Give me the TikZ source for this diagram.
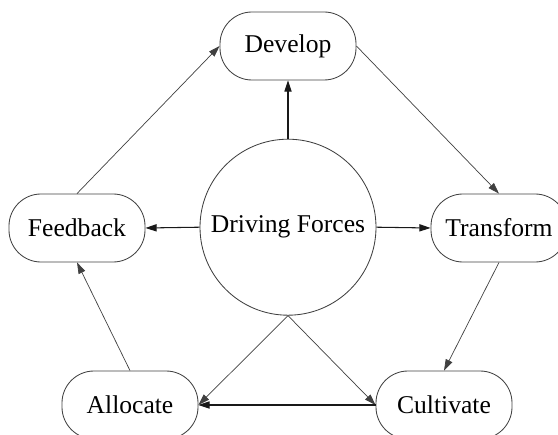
\documentclass[tikz,border=0pt]{standalone}
\usepackage{fontspec}
\setmainfont{Liberation Serif}
\usetikzlibrary{arrows.meta}

\begin{document}
\begin{tikzpicture}[
  box/.style={draw=black!75, line width=0.6pt, rounded corners=0.8cm,
    minimum width=3.4cm, minimum height=1.7cm, inner sep=0pt,
    font=\fontsize{18.2}{20}\selectfont},
  hub/.style={draw=black!75, line width=0.6pt, circle, minimum size=4.4cm,
    inner sep=0pt, font=\fontsize{18.2}{20}\selectfont},
  link/.style={draw=black!75, line width=0.5pt, -{Triangle[length=0.28cm,width=0.18cm]}},
  mainlink/.style={link, draw=black!90, line width=0.75pt}]
\clip (0,0) rectangle (13.95,10.85);

\node[hub] (forces) at (7.2,5.17) {Driving Forces};
\node[box] (develop) at (7.2,9.7) {Develop};
\node[box] (feedback) at (1.925,5.15) {Feedback};
\node[box] (transform) at (12.475,5.15) {Transform};
\node[box] (allocate) at (3.25,0.725) {Allocate};
\node[box] (cultivate) at (11.1,0.725) {Cultivate};

\draw[mainlink] (forces.north) -- (develop.south);
\draw[mainlink] (forces.west) -- (feedback.east);
\draw[mainlink] (forces.east) -- (transform.west);
\draw[link] (forces.south) -- (allocate.east);
\draw[link] (forces.south) -- (cultivate.west);
\draw[mainlink] (cultivate.west) -- (allocate.east);

\draw[link] (feedback.north) -- (develop.west);
\draw[link] (develop.east) -- (transform.north);
\draw[link] (transform.south) -- (cultivate.north);
\draw[link] (allocate.north) -- (feedback.south);
\end{tikzpicture}
\end{document}
